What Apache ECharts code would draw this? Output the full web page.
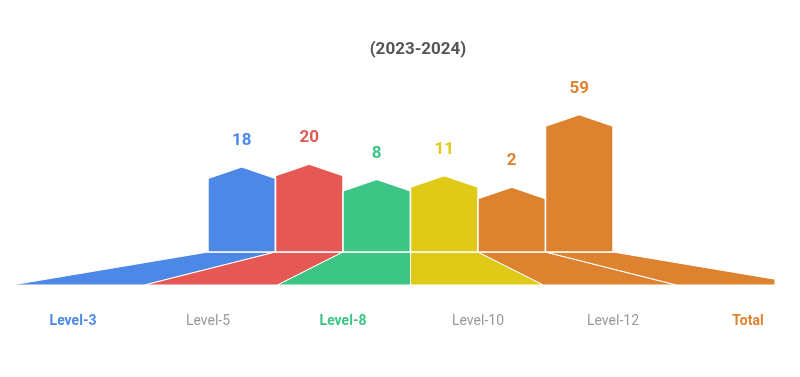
<!DOCTYPE html>
<html>
<head>
<meta charset="utf-8">
<script src="https://cdn.jsdelivr.net/npm/echarts@6/dist/echarts.min.js"></script>
<style>
  html, body { margin: 0; padding: 0; background: #fff; }
  #level-chart { width: 800px; height: 377px; }
</style>
</head>
<body>
<div id="level-chart"></div>
<script>
const categories = ['Level-3', 'Level-5', 'Level-8', 'Level-10', 'Level-12', 'Total'];
const counts = [18, 20, 8, 11, 2, 59];
const barColors = ['#4d88e6', '#e55853', '#3dc585', '#dfcb17', '#dd822f', '#dd822f'];
const labelBold = [true, false, true, false, false, true];
const titleText = '(2023-2024)';

const yMin = -40;
const roofHeight = 11.5;
const floorDepth = 33;
const floorSpread = 1.97;
const labelSpread = 2;
const clipX = 775;

// keep only the part of a polygon left of xmax
function clipLeftOf(points, xmax) {
  const out = [];
  for (let k = 0; k < points.length; k++) {
    const a = points[k];
    const b = points[(k + 1) % points.length];
    const aIn = a[0] <= xmax, bIn = b[0] <= xmax;
    if (aIn) out.push(a);
    if (aIn !== bIn) {
      const t = (xmax - a[0]) / (b[0] - a[0]);
      out.push([xmax, a[1] + t * (b[1] - a[1])]);
    }
  }
  return out;
}

const levelChart = echarts.init(document.getElementById('level-chart'));

function renderLevel(params, api) {
  const i = api.value(0);
  const v = api.value(1);
  const top = api.coord([i, v]);
  const base = api.coord([i, yMin]);
  const w = api.size([1, 0])[0];
  const xl = top[0] - w / 2;
  const xr = top[0] + w / 2;
  const cx = params.coordSys.x + params.coordSys.width / 2;
  const color = barColors[i];
  const yb = base[1];

  const house = [[xl, yb], [xl, top[1]], [top[0], top[1] - roofHeight], [xr, top[1]], [xr, yb]];
  const floor = clipLeftOf([
    [xl, yb], [xr, yb],
    [cx + (xr - cx) * floorSpread, yb + floorDepth],
    [cx + (xl - cx) * floorSpread, yb + floorDepth]
  ], clipX);

  return {
    type: 'group',
    children: [
      {
        type: 'polygon',
        shape: { points: floor },
        style: { fill: color, stroke: '#fff', lineWidth: 1 }
      },
      {
        type: 'polygon',
        shape: { points: house },
        style: { fill: color, stroke: '#fff', lineWidth: 1.5 }
      },
      {
        type: 'text',
        style: {
          text: String(v),
          x: top[0],
          y: top[1] - roofHeight - 26,
          fill: color,
          font: 'bold 17px Roboto',
          align: 'center',
          verticalAlign: 'middle'
        }
      },
      {
        type: 'text',
        style: {
          text: categories[i],
          x: cx + (top[0] - cx) * labelSpread,
          y: yb + 69,
          fill: labelBold[i] ? color : '#999',
          font: (labelBold[i] ? 'bold ' : '') + '14px Roboto',
          align: 'center',
          verticalAlign: 'middle'
        }
      }
    ]
  };
}

const option = {
  animation: false,
  title: {
    text: titleText,
    left: 413,
    top: 36,
    textAlign: 'center',
    textStyle: { color: '#555', fontSize: 17, fontWeight: 'bold', fontFamily: 'Roboto' }
  },
  grid: { left: 208, right: 187, top: 73.8, bottom: 125 },
  xAxis: {
    type: 'category',
    data: categories,
    show: false
  },
  yAxis: {
    type: 'value',
    min: yMin,
    max: 100,
    show: false
  },
  series: [{
    type: 'custom',
    clip: false,
    renderItem: renderLevel,
    data: counts.map((c, i) => [i, c])
  }]
};

levelChart.setOption(option);
</script>
</body>
</html>
